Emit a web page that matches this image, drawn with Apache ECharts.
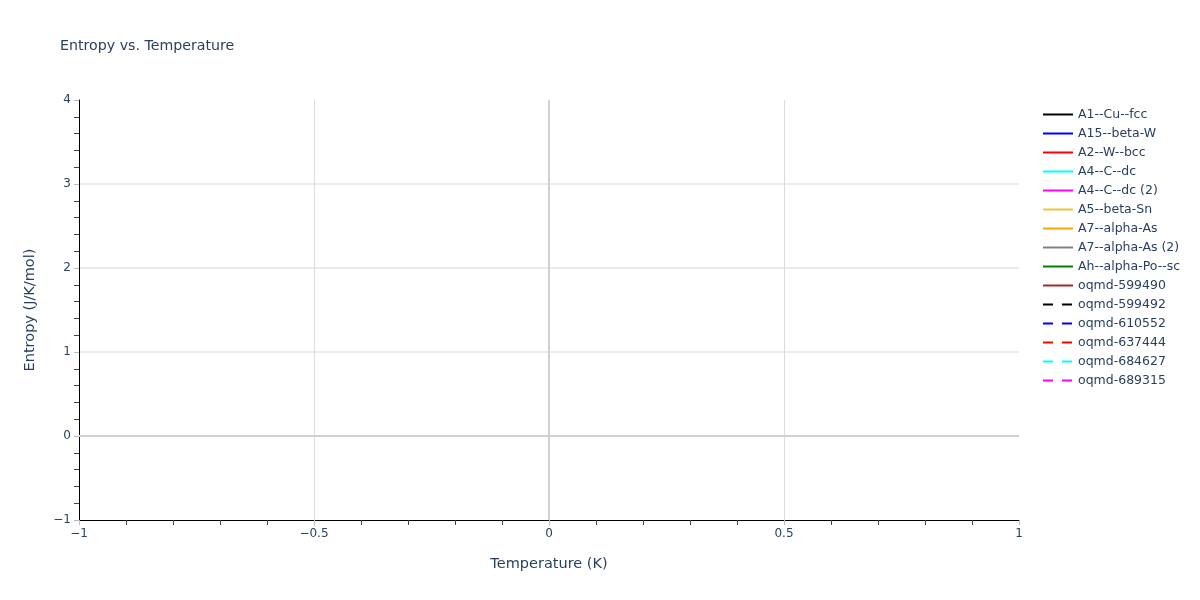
<!DOCTYPE html>
<html>
<head>
<meta charset="utf-8">
<script src="https://cdn.jsdelivr.net/npm/echarts@6/dist/echarts.min.js"></script>
<style>
  html, body { margin: 0; padding: 0; background: #fff; }
  #chart { width: 1200px; height: 600px; }
</style>
</head>
<body>
<div id="chart"></div>
<script>
// series names and styles (no data points in the reference)
let seriesNames = ['A1--Cu--fcc', 'A15--beta-W', 'A2--W--bcc', 'A4--C--dc', 'A4--C--dc (2)',
  'A5--beta-Sn', 'A7--alpha-As', 'A7--alpha-As (2)', 'Ah--alpha-Po--sc', 'oqmd-599490',
  'oqmd-599492', 'oqmd-610552', 'oqmd-637444', 'oqmd-684627', 'oqmd-689315']
let seriesColors = ['#000000', '#0000ff', '#ff0000', '#00ffff', '#ff00ff',
  '#f0c43c', '#ffa500', '#808080', '#008000', '#a52a2a',
  '#000000', '#0000ff', '#ff0000', '#00ffff', '#ff00ff']
let seriesDash = ['solid', 'solid', 'solid', 'solid', 'solid',
  'solid', 'solid', 'solid', 'solid', 'solid',
  'dashed', 'dashed', 'dashed', 'dashed', 'dashed']
let seriesData = seriesNames.map(() => [])

let xMin = -1, xMax = 1, xStep = 0.5
let yMin = -1, yMax = 4, yStep = 1

let textColor = '#2a3f5f'
let font = '"DejaVu Sans", Verdana, sans-serif'

function minus (v) {
  return String(v).replace('-', '\u2212')
}

let chart = echarts.init(document.getElementById('chart'))

let series = seriesNames.map((name, i) => ({
  name: name,
  type: 'line',
  data: seriesData[i],
  symbol: 'none',
  color: seriesColors[i],
  lineStyle: { color: seriesColors[i], width: 2, type: seriesDash[i] == 'dashed' ? [10, 9] : 'solid' }
}))

// zero lines
series.push({
  type: 'line',
  data: [],
  symbol: 'none',
  silent: true,
  markLine: {
    silent: true,
    symbol: 'none',
    label: { show: false },
    animation: false,
    lineStyle: { color: '#d0d0d0', width: 2, type: 'solid' },
    data: [{ xAxis: 0 }, { yAxis: 0 }]
  }
})

let options = {
  animation: false,
  textStyle: { fontFamily: font },
  title: {
    text: 'Entropy vs. Temperature',
    left: 55,
    top: 34,
    textStyle: { color: textColor, fontSize: 14.2, fontWeight: 'normal', fontFamily: font }
  },
  legend: {
    data: seriesNames,
    orient: 'vertical',
    left: 1037,
    top: 103,
    itemWidth: 30,
    itemHeight: 12,
    itemGap: 6,
    itemStyle: { opacity: 0 },
    textStyle: { color: textColor, fontSize: 12.5, fontFamily: font }
  },
  grid: { left: 79, right: 181, top: 100, bottom: 80 },
  xAxis: {
    type: 'value',
    min: xMin,
    max: xMax,
    interval: xStep,
    name: 'Temperature (K)',
    nameLocation: 'middle',
    nameGap: 37,
    nameTextStyle: { color: textColor, fontSize: 14.5, fontFamily: font },
    axisLine: { show: true, onZero: false, lineStyle: { color: '#000', width: 1 } },
    axisTick: { show: true, length: 5, lineStyle: { color: '#bbb' } },
    minorTick: { show: true, splitNumber: 5, length: 5, lineStyle: { color: '#444' } },
    axisLabel: { color: textColor, fontSize: 12, margin: 8, formatter: minus },
    splitLine: { show: true, lineStyle: { color: ['transparent', '#dcdcdc', 'transparent', '#dcdcdc', 'transparent'], width: 1 } }
  },
  yAxis: {
    type: 'value',
    min: yMin,
    max: yMax,
    interval: yStep,
    name: 'Entropy (J/K/mol)',
    nameLocation: 'middle',
    nameGap: 41,
    nameTextStyle: { color: textColor, fontSize: 14.5, fontFamily: font },
    axisLine: { show: true, onZero: false, lineStyle: { color: '#000', width: 1 } },
    axisTick: { show: true, length: 5, lineStyle: { color: '#bbb' } },
    minorTick: { show: true, splitNumber: 5, length: 5, lineStyle: { color: '#444' } },
    axisLabel: { color: textColor, fontSize: 12, margin: 8, formatter: minus },
    splitLine: { show: true, lineStyle: { color: ['transparent', 'transparent', '#e4e4e4', '#e4e4e4', '#e4e4e4', 'transparent'], width: 1.5 } }
  },
  series: series
}

chart.setOption(options)
</script>
</body>
</html>
